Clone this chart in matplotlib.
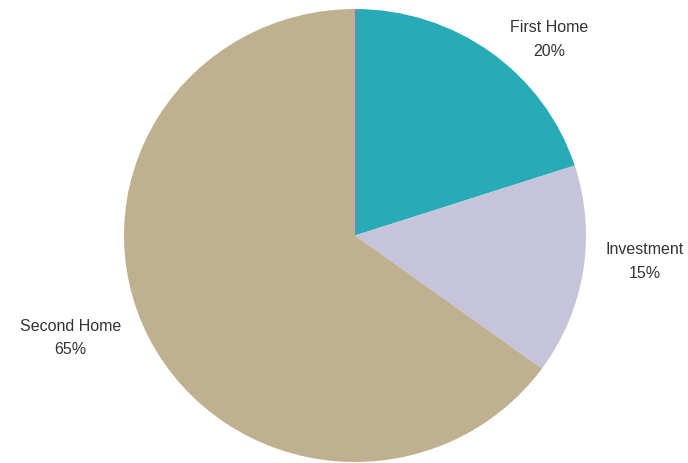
import numpy as np
import matplotlib.pyplot as plt

plt.rcParams['font.family'] = ['Liberation Sans', 'DejaVu Sans']

# Loan purpose shares (%)
labels = ["First Home", "Investment", "Second Home"]
shares = [20, 15, 65]
colors = ["#28abb6", "#c6c4da", "#bfb090"]

# label placement (angle in degrees, distance in radii)
label_angle = [46, -5, 200]
label_dist = [1.21, 1.26, 1.31]

fig = plt.figure(figsize=(6.88, 4.64), dpi=100)
# pie is slightly wider than tall in the reference
ax = fig.add_axes([124 / 688, 1 / 464, 462 / 688, 453 / 464])

ax.pie(shares, colors=colors, startangle=90, counterclock=False,
       wedgeprops=dict(linewidth=0))
ax.set_aspect('auto')
ax.set_xlim(-1, 1)
ax.set_ylim(-1, 1)

for name, s, a, d in zip(labels, shares, label_angle, label_dist):
    x = d * np.cos(np.radians(a))
    y = d * np.sin(np.radians(a))
    ax.text(x, y, f"{name}\n{s}%", ha="center", va="center",
            fontsize=11.5, color="#333333", linespacing=1.7,
            clip_on=False)

fig.savefig("out.png", dpi=100)
